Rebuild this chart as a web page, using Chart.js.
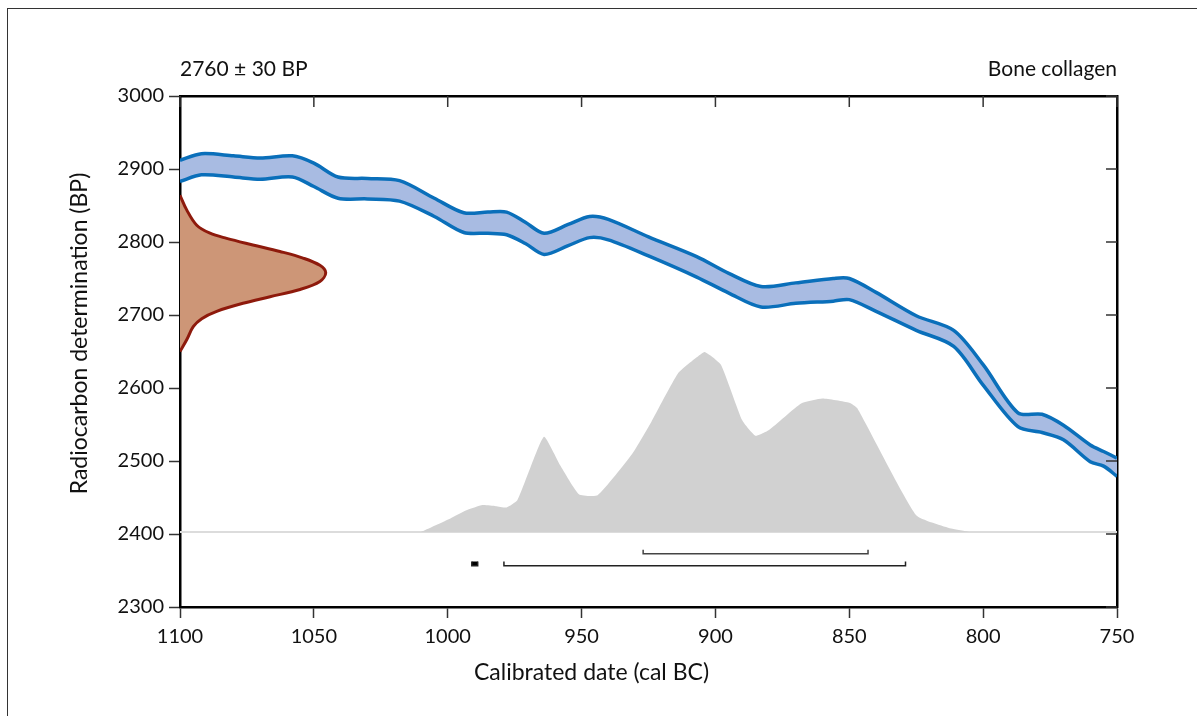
<!DOCTYPE html>
<html>
<head>
<meta charset="utf-8">
<script src="https://cdn.jsdelivr.net/npm/chart.js@4.4.1/dist/chart.umd.min.js"></script>
<style>
    html, body { margin: 0; padding: 0; background: #fff; }
    #wrap { position: relative; width: 1197px; height: 716px; overflow: hidden; }
    #frame { position: absolute; left: 7px; top: 8px; right: -5px; bottom: -5px; border-top: 1.5px solid #333; border-left: 1.5px solid #333; }
    #chart { position: absolute; left: 0; top: 0; }
</style>
</head>
<body>
<div id="wrap">
    <div id="frame"></div>
    <canvas id="chart" width="1197" height="716"></canvas>
</div>
<script>
// Calibration curve (IntCal band), years cal BC
const calYears = [1100, 1092, 1080, 1070, 1058, 1050, 1041, 1030, 1018, 1005, 994, 985, 978, 971, 964, 955, 947, 940, 925, 907, 895, 883, 870, 856, 850, 840, 825, 811, 800, 787, 778, 770, 760, 755, 750];
const curveUpper = [2912, 2921, 2918, 2915, 2918, 2908, 2889, 2887, 2884, 2860, 2840, 2841, 2841, 2827, 2812, 2824, 2835, 2831, 2807, 2780, 2757, 2739, 2744, 2750, 2750, 2731, 2699, 2679, 2632, 2566, 2564, 2549, 2522, 2513, 2504];
const curveLower = [2883, 2892, 2889, 2886, 2889, 2876, 2860, 2859, 2856, 2835, 2813, 2812, 2810, 2798, 2783, 2795, 2806, 2803, 2781, 2752, 2730, 2711, 2716, 2719, 2721, 2705, 2679, 2657, 2604, 2547, 2539, 2529, 2499, 2493, 2479];

// Measured radiocarbon date (relative probability along BP)
const measBP = [2864, 2844, 2823, 2812, 2805, 2796, 2787, 2778, 2768, 2758, 2746, 2735, 2725, 2716, 2705, 2695, 2684, 2666, 2650];
const measProb = [0, 0.046, 0.115, 0.206, 0.32, 0.50, 0.686, 0.844, 0.96, 1.0, 0.96, 0.824, 0.618, 0.432, 0.252, 0.149, 0.091, 0.046, 0];

// Calibrated date distribution (relative probability)
const calDistYears = [1010, 999, 993, 987, 982, 978, 974, 969, 964, 958, 951, 944, 931, 924, 914, 907, 904, 898, 890, 885, 880, 868, 860, 850, 847, 825, 812, 805];
const calDistProb = [0, 0.075, 0.12, 0.149, 0.143, 0.136, 0.176, 0.362, 0.529, 0.371, 0.21, 0.204, 0.436, 0.61, 0.88, 0.97, 1.0, 0.93, 0.62, 0.534, 0.566, 0.714, 0.742, 0.718, 0.687, 0.093, 0.019, 0];

// Highest probability ranges (cal BC)
const range68 = [[927, 843]];
const range95 = [[991, 988.8], [979, 829]];

const sampleLabel = '2760 \u00b1 30 BP';
const materialLabel = 'Bone collagen';
const xTitle = 'Calibrated date (cal BC)';
const yTitle = 'Radiocarbon determination (BP)';

const FONT = 'Lato, "Open Sans", sans-serif';
const pts = (xs, ys) => xs.map((x, i) => ({ x: x, y: ys[i] }));

// bracket drawn below the distribution
function bracket(r, base, h) {
    return [
        { x: r[0], y: base + h },
        { x: r[0], y: base },
        { x: r[1], y: base },
        { x: r[1], y: base + h }
    ];
}

const datasets = [
    {
        data: measBP.map((b, i) => ({ x: measProb[i], y: b })),
        xAxisID: 'xProb', yAxisID: 'y',
        borderColor: '#8e1a0c', borderWidth: 3,
        backgroundColor: '#cd9677',
        fill: 'shape', tension: 0.35, pointRadius: 0, order: 1
    },
    {
        data: pts(calYears, curveUpper),
        xAxisID: 'x', yAxisID: 'y',
        borderColor: '#0a6fba', borderWidth: 3.5,
        backgroundColor: '#a8bbe2',
        fill: '+1', tension: 0.3, pointRadius: 0, order: 3
    },
    {
        data: pts(calYears, curveLower),
        xAxisID: 'x', yAxisID: 'y',
        borderColor: '#0a6fba', borderWidth: 3.5,
        fill: false, tension: 0.3, pointRadius: 0, order: 2
    },
    {
        data: pts(calDistYears, calDistProb),
        xAxisID: 'x', yAxisID: 'yProb',
        borderWidth: 0, borderColor: 'rgba(0,0,0,0)',
        backgroundColor: '#d1d1d1',
        fill: 'origin', tension: 0.15, pointRadius: 0, order: 6
    },
    {
        data: [{ x: 1100, y: 0 }, { x: 750, y: 0 }],
        xAxisID: 'x', yAxisID: 'yProb',
        borderColor: '#dcdcdc', borderWidth: 2,
        fill: false, pointRadius: 0, order: 7
    }
];

range68.forEach(r => datasets.push({
    data: bracket(r, 2373, 5.5),
    xAxisID: 'x', yAxisID: 'y',
    borderColor: '#444', borderWidth: 1.5,
    fill: false, tension: 0, pointRadius: 0, order: 4
}));
range95.forEach(r => datasets.push({
    data: bracket(r, 2356.5, 6),
    xAxisID: 'x', yAxisID: 'y',
    borderColor: '#222', borderWidth: 1.5,
    backgroundColor: '#000',
    fill: (r[0] - r[1]) < 5 ? 'shape' : false,
    tension: 0, pointRadius: 0, order: 4
}));

// inside tick marks on the top and right frame, header and axis titles
const framePlugin = {
    id: 'framePlugin',
    afterDraw(chart) {
        const { ctx, chartArea, scales } = chart;
        ctx.save();
        ctx.strokeStyle = '#333';
        ctx.lineWidth = 1.5;
        ctx.beginPath();
        scales.x.ticks.forEach(t => {
            const px = scales.x.getPixelForValue(t.value);
            ctx.moveTo(px, chartArea.top);
            ctx.lineTo(px, chartArea.top + 11);
        });
        scales.y.ticks.forEach(t => {
            const py = scales.y.getPixelForValue(t.value);
            ctx.moveTo(chartArea.right - 11, py);
            ctx.lineTo(chartArea.right, py);
        });
        ctx.stroke();

        ctx.fillStyle = '#111';
        ctx.font = '21px ' + FONT;
        ctx.textBaseline = 'alphabetic';
        ctx.textAlign = 'left';
        ctx.fillText(sampleLabel, chartArea.left, chartArea.top - 20);
        ctx.textAlign = 'right';
        ctx.fillText(materialLabel, chartArea.right, chartArea.top - 20);

        // axis titles sit a little off the plot centre, as in the original
        ctx.font = '23px ' + FONT;
        ctx.textAlign = 'center';
        ctx.textBaseline = 'middle';
        ctx.fillText(xTitle, (chartArea.left + chartArea.right) / 2 - 57, chartArea.bottom + 66);
        ctx.translate(80, (chartArea.top + chartArea.bottom) / 2 - 18);
        ctx.rotate(-Math.PI / 2);
        ctx.fillText(yTitle, 0, 0);
        ctx.restore();
    }
};

const axisBorder = { display: true, color: '#000', width: 2.5 };

new Chart(document.getElementById('chart'), {
    type: 'line',
    data: { datasets: datasets },
    options: {
        responsive: false,
        animation: false,
        layout: { padding: 0 },
        plugins: {
            legend: { display: false },
            tooltip: { enabled: false }
        },
        scales: {
            x: {
                type: 'linear', position: 'bottom', reverse: true,
                min: 750, max: 1100, z: 1,
                border: axisBorder,
                grid: { drawOnChartArea: false, drawTicks: true, tickLength: 11, tickWidth: 1.5, tickColor: '#333' },
                ticks: {
                    stepSize: 50, padding: 7, color: '#111',
                    font: { family: FONT, size: 20 },
                    callback: v => String(v)
                },
                afterFit: s => { s.height = 109; }
            },
            xTop: {
                type: 'linear', position: 'top', reverse: true,
                min: 750, max: 1100, z: 1,
                border: axisBorder,
                grid: { drawOnChartArea: false, drawTicks: false },
                ticks: { display: false },
                afterFit: s => { s.height = 96; }
            },
            y: {
                type: 'linear', position: 'left',
                min: 2300, max: 3000, z: 1,
                border: axisBorder,
                grid: { drawOnChartArea: false, drawTicks: true, tickLength: 11, tickWidth: 1.5, tickColor: '#333' },
                ticks: {
                    stepSize: 100, padding: 5, color: '#111',
                    font: { family: FONT, size: 20 },
                    callback: v => String(v)
                },
                afterFit: s => { s.width = 180; }
            },
            yRight: {
                type: 'linear', position: 'right',
                min: 2300, max: 3000, z: 1,
                border: axisBorder,
                grid: { drawOnChartArea: false, drawTicks: false },
                ticks: { display: false },
                afterFit: s => { s.width = 80; }
            },
            xProb: { type: 'linear', display: false, min: 0, max: 6.43 },
            yProb: { type: 'linear', display: false, min: -0.417, max: 2.422 }
        }
    },
    plugins: [framePlugin]
});
</script>
</body>
</html>
